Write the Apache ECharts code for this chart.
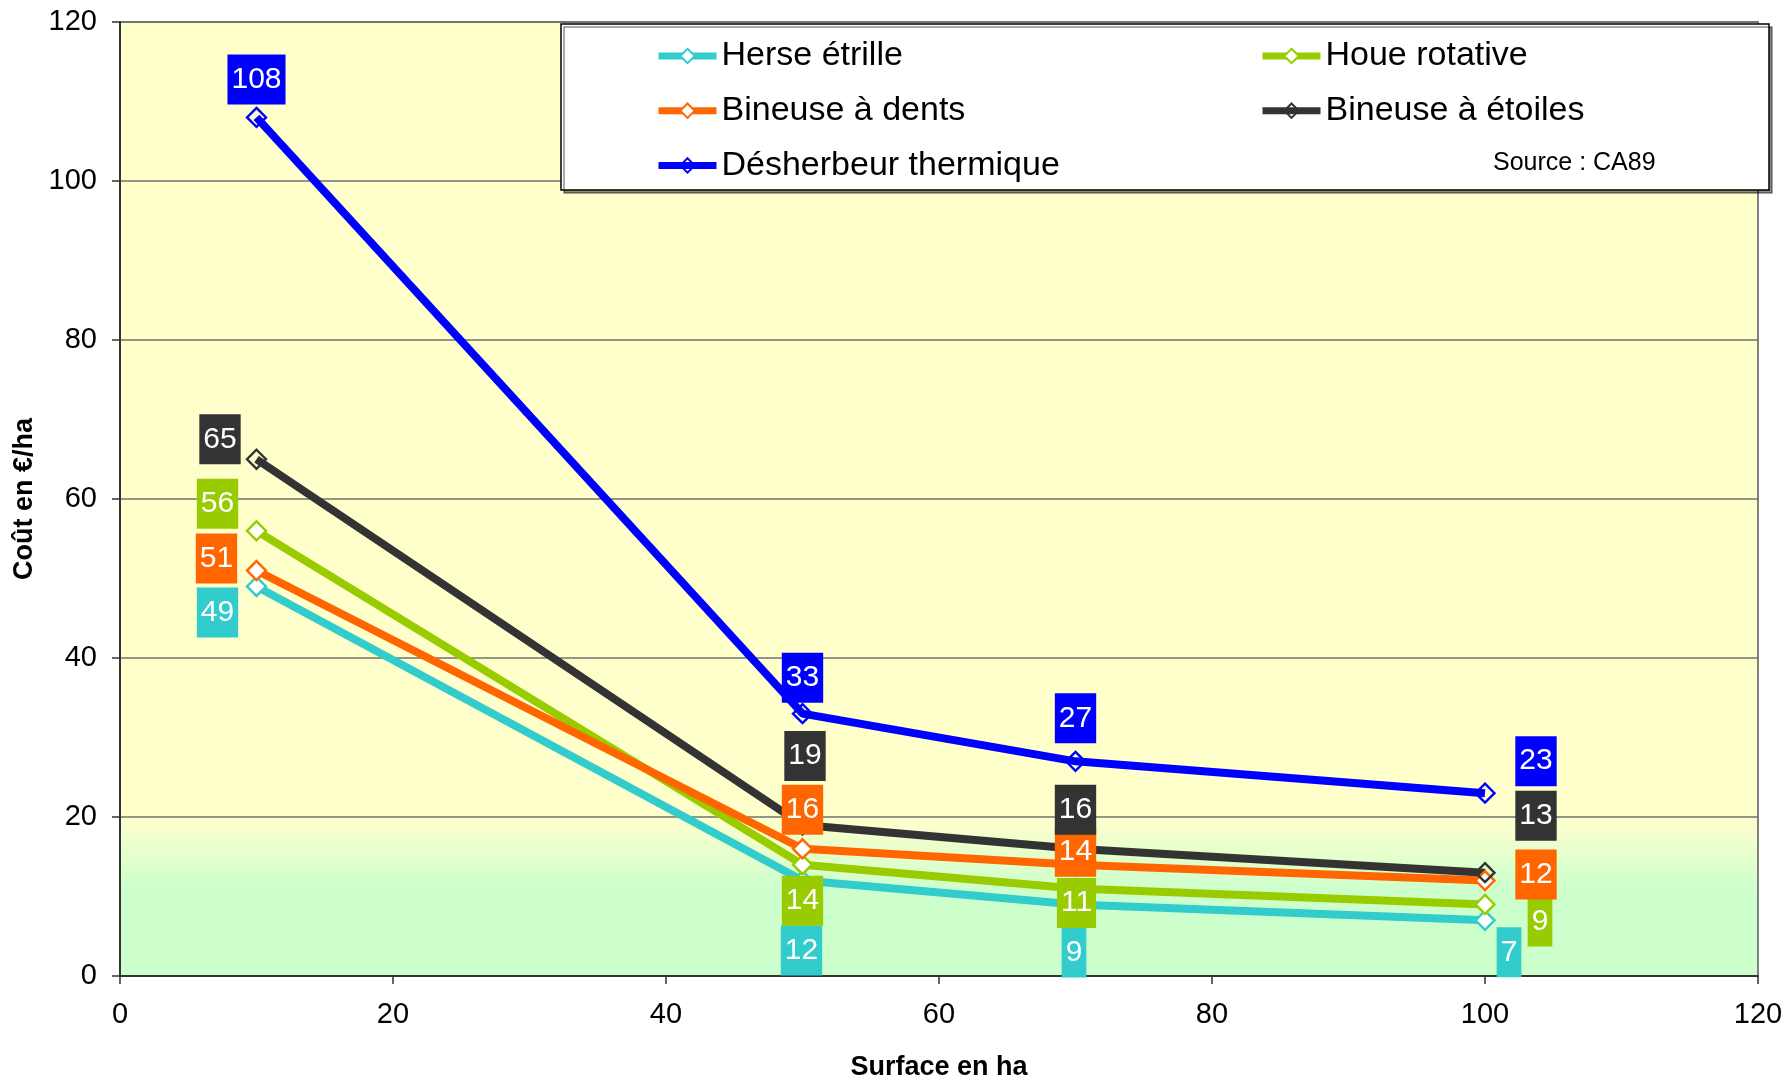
<!DOCTYPE html>
<html>
<head>
<meta charset="utf-8">
<script src="https://cdn.jsdelivr.net/npm/echarts@6/dist/echarts.min.js"></script>
<style>
  html, body { margin: 0; padding: 0; background: #ffffff; }
  #chart { width: 1788px; height: 1081px; }
</style>
</head>
<body>
<div id="chart"></div>
<script>
// Surface (ha) and cost per hectare (€/ha) for each weeding tool
const surfaces = [10, 50, 70, 100];
const herseEtrille = [49, 12, 9, 7];
const houeRotative = [56, 14, 11, 9];
const bineuseDents = [51, 16, 14, 12];
const bineuseEtoiles = [65, 19, 16, 13];
const desherbeurThermique = [108, 33, 27, 23];

const seriesNames = ['Herse étrille', 'Houe rotative', 'Bineuse à dents', 'Bineuse à étoiles', 'Désherbeur thermique'];
const seriesValues = [herseEtrille, houeRotative, bineuseDents, bineuseEtoiles, desherbeurThermique];
const seriesColors = ['#33CCCC', '#99CC00', '#FF6600', '#333333', '#0000FF'];
const markerFills = ['#ffffff', '#ffffff', '#ffffff', 'rgba(0,0,0,0)', 'rgba(0,0,0,0)'];

// Hand-placed value boxes, shifted from their point (pixels)
const labelShifts = [
  [[-39, 26], [-1, 70], [-1.5, 48], [24, 32]],
  [[-39, -27], [0, 36], [1, 14.5], [55, 17]],
  [[-40, -12], [0, -39], [0, -13], [51, -6]],
  [[-36.5, -20], [2.5, -69], [0, -39], [51, -57]],
  [[0, -38], [0, -36], [0, -43], [51, -32]]
];

const FONT = '"Liberation Sans", Arial, sans-serif';

const chart = echarts.init(document.getElementById('chart'), null, { renderer: 'canvas' });

const series = seriesNames.map((name, s) => ({
  name: name,
  type: 'line',
  symbol: 'diamond',
  symbolSize: [19, 19],
  showAllSymbol: true,
  lineStyle: { color: seriesColors[s], width: 8 },
  itemStyle: { color: markerFills[s], borderColor: seriesColors[s], borderWidth: 2.4 },
  emphasis: { disabled: true },
  z: 2,
  z2: s,
  data: surfaces.map((x, i) => ({
    value: [x, seriesValues[s][i]],
    label: { offset: labelShifts[s][i] }
  })),
  label: {
    show: true,
    position: 'inside',
    formatter: p => String(p.value[1]),
    color: '#ffffff',
    fontFamily: FONT,
    fontSize: 30,
    lineHeight: 30,
    padding: [10, 4, 10, 4],
    backgroundColor: seriesColors[s]
  }
}));

const legendCommon = {
  orient: 'vertical',
  top: 34,
  itemWidth: 58, itemHeight: 18, itemGap: 20.7,
  textStyle: { fontFamily: FONT, fontSize: 34, color: '#000', lineHeight: 34 },
  lineStyle: { width: 7 },
  selectedMode: false,
  z: 10
};

const option = {
  animation: false,
  backgroundColor: '#ffffff',
  grid: {
    left: 120, right: 30, top: 22, bottom: 105,
    outerBoundsMode: 'none',
    show: true,
    borderColor: '#808080',
    borderWidth: 2,
    backgroundColor: new echarts.graphic.LinearGradient(0, 0, 0, 1, [
      { offset: 0, color: '#FFFFCC' },
      { offset: 0.833, color: '#FFFFCC' },
      { offset: 0.91, color: '#CCFFCC' },
      { offset: 1, color: '#CCFFCC' }
    ])
  },
  xAxis: {
    type: 'value',
    min: 0, max: 120, interval: 20,
    name: 'Surface en ha',
    nameLocation: 'middle',
    nameGap: 78,
    nameTextStyle: { fontFamily: FONT, fontSize: 27, fontWeight: 'bold', color: '#000' },
    axisLine: { show: true, onZero: false, lineStyle: { color: '#333', width: 2 } },
    axisTick: { show: true, length: 8, lineStyle: { color: '#333', width: 1.5 } },
    axisLabel: { margin: 24, fontFamily: FONT, fontSize: 29, color: '#000' },
    splitLine: { show: false }
  },
  yAxis: {
    type: 'value',
    min: 0, max: 120, interval: 20,
    name: 'Coût en €/ha',
    nameLocation: 'middle',
    nameGap: 79,
    nameRotate: 90,
    nameTextStyle: { fontFamily: FONT, fontSize: 27, fontWeight: 'bold', color: '#000' },
    axisLine: { show: true, onZero: false, lineStyle: { color: '#333', width: 2 } },
    axisTick: { show: true, length: 8, lineStyle: { color: '#333', width: 1.5 } },
    axisLabel: { margin: 23, fontFamily: FONT, fontSize: 29, color: '#000' },
    splitLine: { show: true, lineStyle: { color: '#707070', width: 1.5 } }
  },
  legend: [
    Object.assign({}, legendCommon, {
      left: 650,
      data: ['Herse étrille', 'Bineuse à dents', 'Désherbeur thermique']
    }),
    Object.assign({}, legendCommon, {
      left: 1254,
      data: ['Houe rotative', 'Bineuse à étoiles']
    })
  ],
  graphic: [
    {
      type: 'rect',
      z: 3,
      shape: { x: 561, y: 24, width: 1208, height: 166 },
      style: {
        fill: '#ffffff', stroke: '#000000', lineWidth: 1.5,
        shadowColor: 'rgba(0,0,0,0.45)', shadowOffsetX: 3, shadowOffsetY: 3, shadowBlur: 0
      }
    },
    {
      type: 'text',
      z: 11,
      left: 1493, top: 151,
      style: { text: 'Source : CA89', fontFamily: FONT, fontSize: 25, fill: '#000' }
    }
  ],
  series: series
};

chart.setOption(option);
</script>
</body>
</html>
